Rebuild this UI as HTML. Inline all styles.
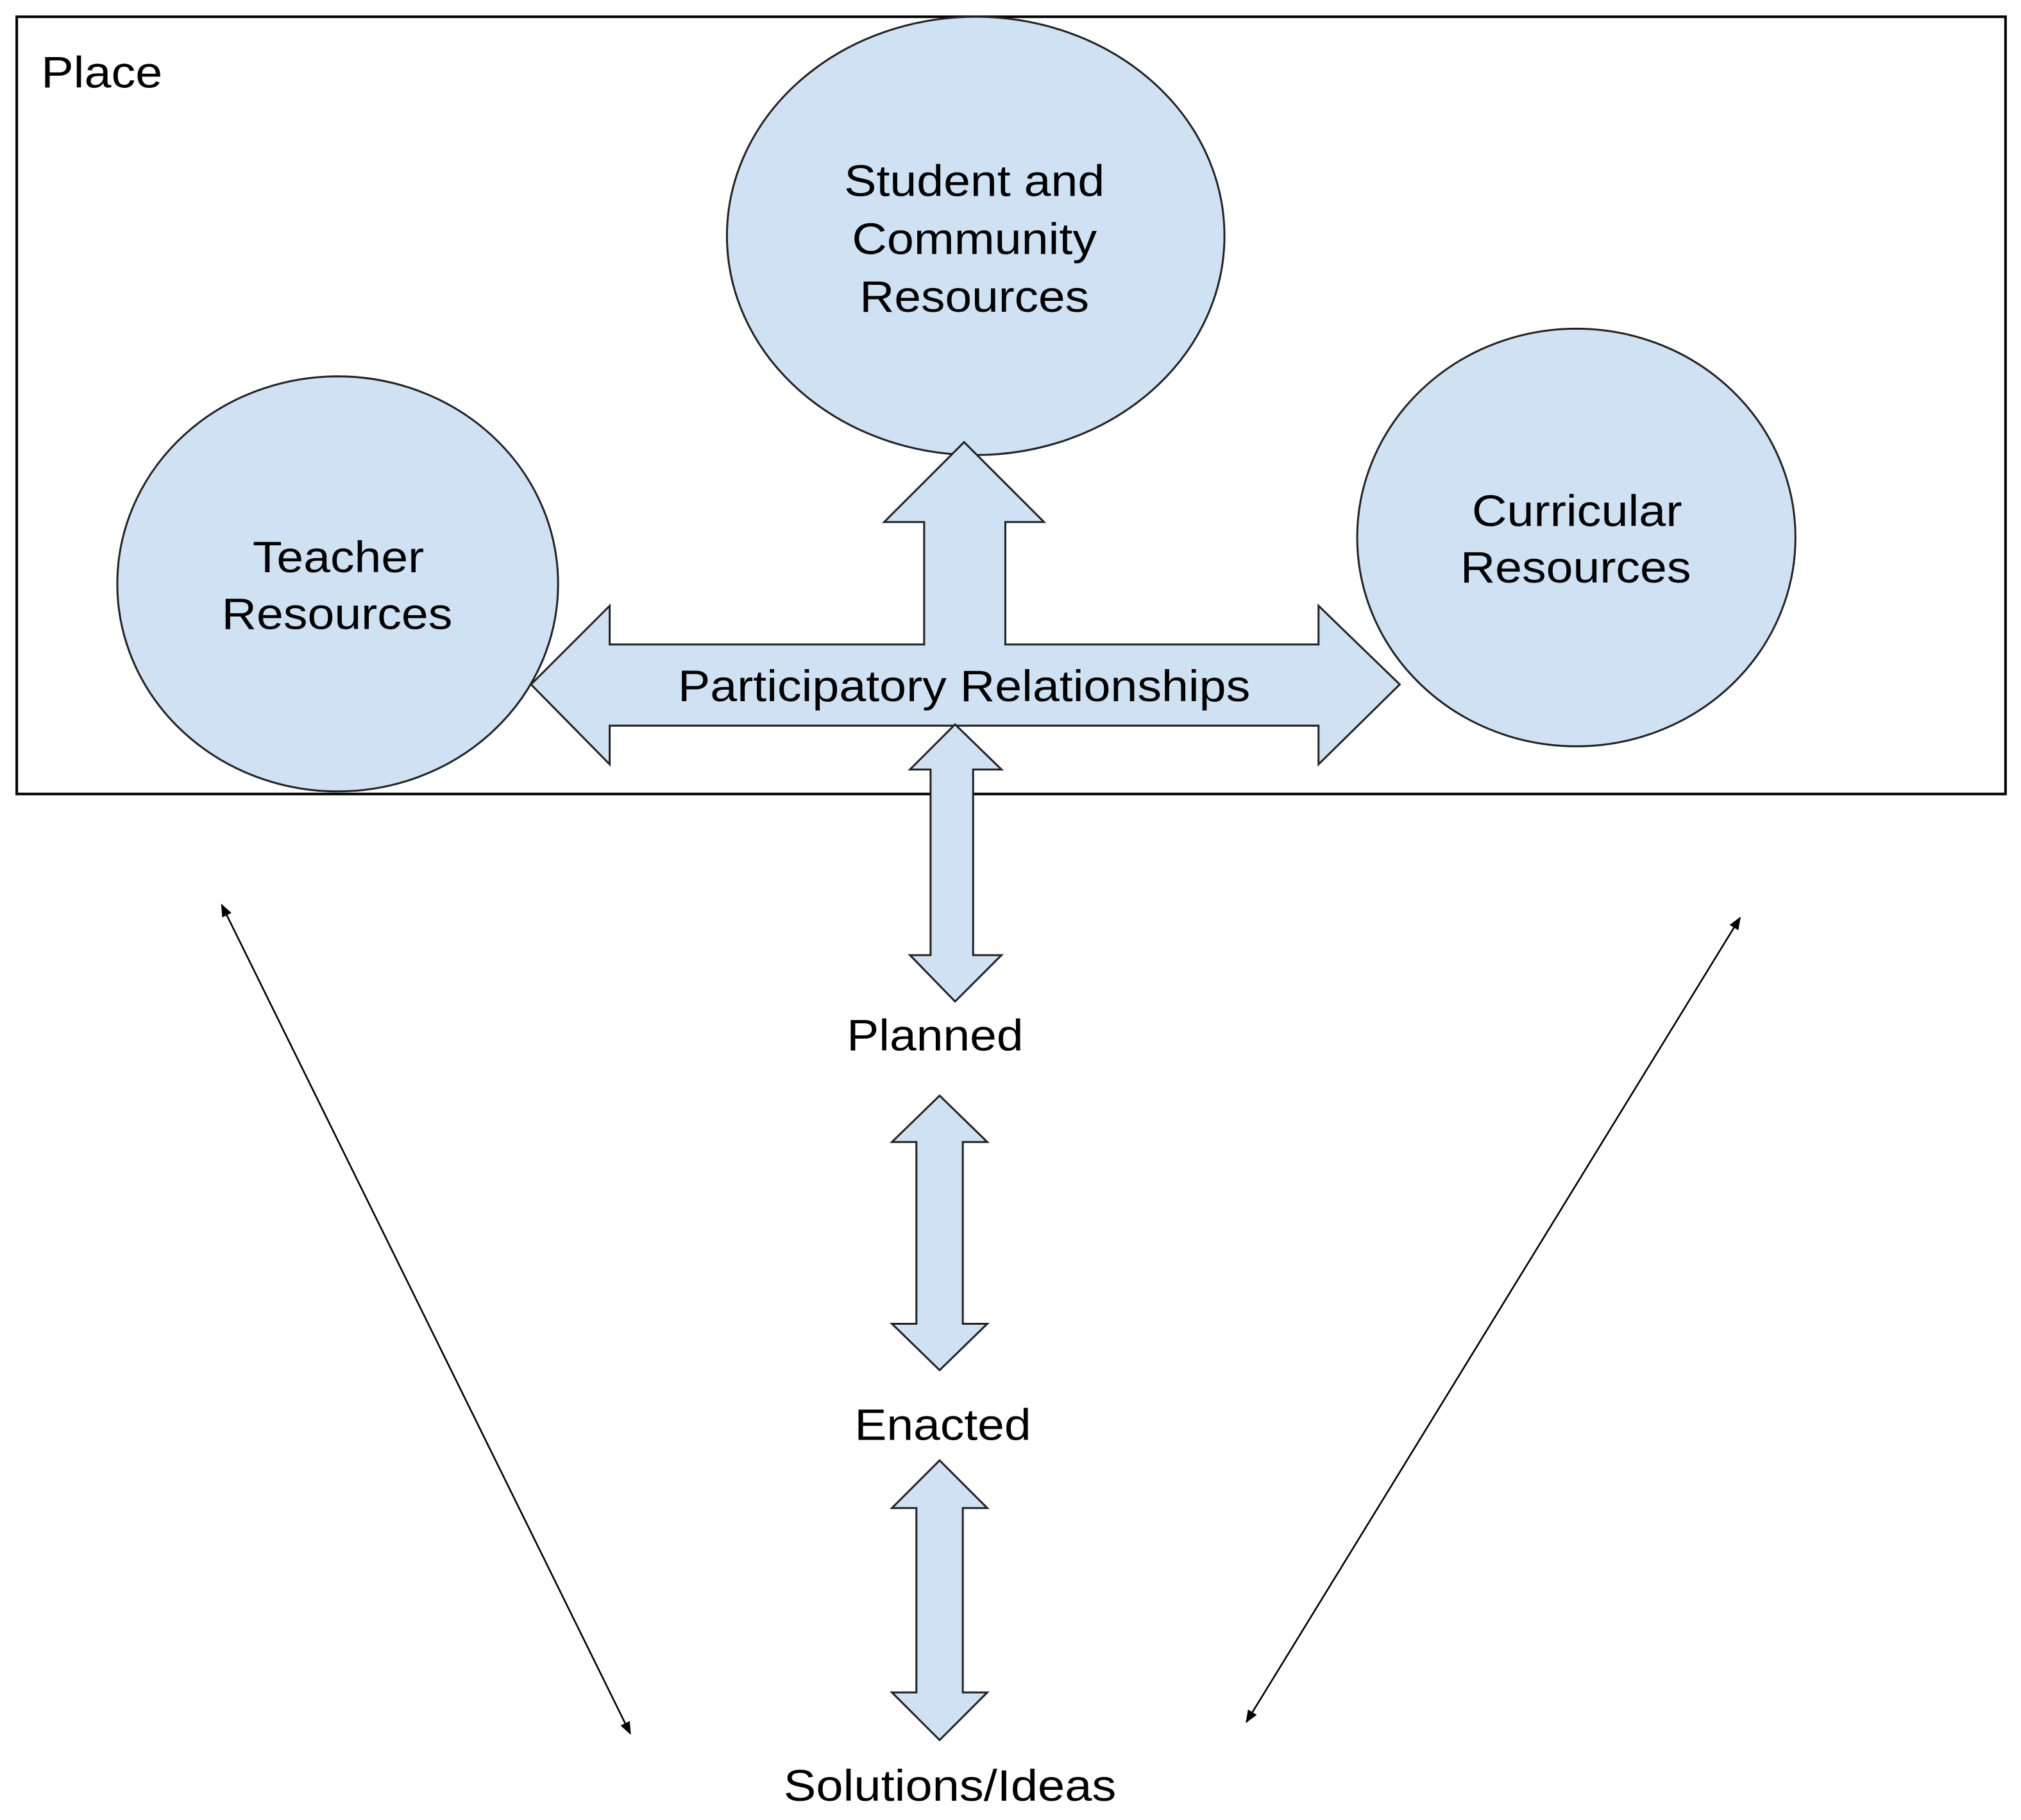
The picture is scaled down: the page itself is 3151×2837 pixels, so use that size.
<!DOCTYPE html>
<html><head><meta charset="utf-8"><style>html,body{margin:0;padding:0;background:#fff}svg{display:block}</style></head>
<body>
<svg width="3151" height="2837" viewBox="0 0 1568 1412" preserveAspectRatio="none" xmlns="http://www.w3.org/2000/svg">
<defs>
<marker id="ah" markerWidth="10" markerHeight="8" refX="9" refY="4" orient="auto-start-reverse" markerUnits="userSpaceOnUse"><path d="M0,0 L10,4 L0,8 Z" fill="#000"/></marker>
</defs>
<g font-family="Liberation Sans, sans-serif" fill="#000">
<rect x="13" y="13" width="1543" height="603" fill="#fff" stroke="#000" stroke-width="2"/>
<text x="32" y="68" font-size="34" textLength="94" lengthAdjust="spacingAndGlyphs">Place</text>
<g fill="#cfe2f3" stroke="#222" stroke-width="1.5">
<ellipse cx="757" cy="183" rx="193" ry="170"/>
<ellipse cx="262" cy="453" rx="171" ry="161"/>
<ellipse cx="1223" cy="417" rx="170" ry="162"/>
<path d="M412,531 L473,470 L473,500 L717,500 L717,405 L686,405 L748,343 L810,405 L780,405 L780,500 L1023,500 L1023,470 L1086,531 L1023,593 L1023,563 L473,563 L473,593 Z"/>
<path d="M741,562 L777,597 L755,597 L755,741 L777,741 L741,777 L706,741 L722,741 L722,597 L706,597 Z"/>
<path d="M729,850 L766,886 L747,886 L747,1027 L766,1027 L729,1063 L692,1027 L711,1027 L711,886 L692,886 Z"/>
<path d="M729,1133 L766,1170 L747,1170 L747,1313 L766,1313 L729,1350 L692,1313 L711,1313 L711,1170 L692,1170 Z"/>
</g>
<g font-size="34" lengthAdjust="spacingAndGlyphs">
<text x="655" y="152" textLength="202" lengthAdjust="spacingAndGlyphs">Student and</text>
<text x="661" y="197" textLength="190" lengthAdjust="spacingAndGlyphs">Community</text>
<text x="667" y="242" textLength="178" lengthAdjust="spacingAndGlyphs">Resources</text>
<text x="196" y="444" textLength="133" lengthAdjust="spacingAndGlyphs">Teacher</text>
<text x="172" y="488" textLength="179" lengthAdjust="spacingAndGlyphs">Resources</text>
<text x="1142" y="408" textLength="163" lengthAdjust="spacingAndGlyphs">Curricular</text>
<text x="1133" y="452" textLength="179" lengthAdjust="spacingAndGlyphs">Resources</text>
<text x="526" y="544" textLength="444" lengthAdjust="spacingAndGlyphs">Participatory Relationships</text>
<text x="657" y="815" textLength="137" lengthAdjust="spacingAndGlyphs">Planned</text>
<text x="663" y="1117" textLength="137" lengthAdjust="spacingAndGlyphs">Enacted</text>
<text x="608" y="1397" textLength="258" lengthAdjust="spacingAndGlyphs">Solutions/Ideas</text>
</g>
<line x1="172" y1="702" x2="489" y2="1345" stroke="#000" stroke-width="1.3" marker-start="url(#ah)" marker-end="url(#ah)"/>
<line x1="1350" y1="712" x2="967" y2="1336" stroke="#000" stroke-width="1.3" marker-start="url(#ah)" marker-end="url(#ah)"/>
</g>
</svg>
</body></html>
